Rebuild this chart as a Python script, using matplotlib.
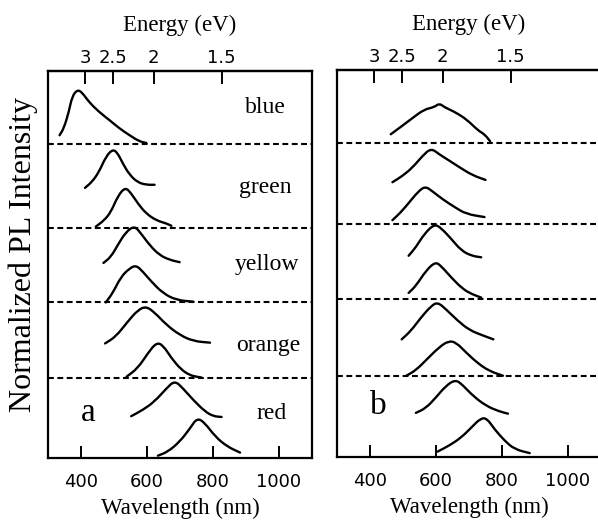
import matplotlib
matplotlib.use("Agg")
import matplotlib.pyplot as plt
from matplotlib.path import Path
from matplotlib.patches import PathPatch

# ---------------- data ----------------
# Panel a : wavelength (nm) and stacked normalized PL intensity
a_blue_wl = [335, 348, 363, 373, 389, 404, 424, 455, 485, 516, 547, 577, 598]
a_blue_y = [4.17, 4.26, 4.47, 4.67, 4.76, 4.72, 4.60, 4.47, 4.37, 4.26, 4.17, 4.09, 4.07]

a_green1_wl = [412, 434, 455, 475, 496, 511, 526, 547, 572, 598, 623]
a_green1_y = [3.49, 3.57, 3.70, 3.89, 3.99, 3.94, 3.81, 3.66, 3.56, 3.53, 3.53]
a_green2_wl = [445, 470, 491, 511, 534, 552, 572, 597, 628, 659, 674]
a_green2_y = [2.99, 3.07, 3.18, 3.38, 3.50, 3.42, 3.29, 3.16, 3.07, 3.03, 3.00]

a_yellow1_wl = [468, 491, 511, 536, 562, 582, 608, 638, 669, 699]
a_yellow1_y = [2.52, 2.60, 2.75, 2.92, 3.00, 2.90, 2.75, 2.62, 2.56, 2.53]
a_yellow2_wl = [475, 496, 521, 547, 567, 587, 613, 648, 689, 740]
a_yellow2_y = [2.01, 2.13, 2.34, 2.45, 2.49, 2.41, 2.28, 2.13, 2.04, 2.02]

a_orange1_wl = [473, 506, 541, 572, 597, 623, 659, 699, 740, 791]
a_orange1_y = [1.48, 1.57, 1.76, 1.91, 1.96, 1.88, 1.72, 1.59, 1.51, 1.49]
a_orange2_wl = [538, 572, 602, 628, 648, 674, 704, 730, 750, 765]
a_orange2_y = [1.05, 1.16, 1.35, 1.49, 1.46, 1.29, 1.14, 1.07, 1.05, 1.04]

a_red1_wl = [552, 587, 623, 659, 684, 709, 740, 776, 801, 826]
a_red1_y = [0.54, 0.62, 0.73, 0.90, 1.00, 0.90, 0.75, 0.60, 0.54, 0.53]
a_red2_wl = [633, 663, 699, 730, 752, 776, 806, 842, 882]
a_red2_y = [0.03, 0.08, 0.21, 0.38, 0.52, 0.45, 0.28, 0.15, 0.07]

# Panel b
b_s5_wl = [463, 498, 529, 564, 595, 610, 625, 661, 696, 727, 747, 764]
b_s5_y = [4.17, 4.28, 4.38, 4.49, 4.52, 4.57, 4.52, 4.45, 4.35, 4.22, 4.17, 4.08]

b_s4a_wl = [468, 498, 529, 559, 585, 610, 640, 676, 711, 750]
b_s4a_y = [3.55, 3.63, 3.74, 3.89, 3.99, 3.91, 3.83, 3.73, 3.64, 3.58]
b_s4b_wl = [468, 493, 519, 544, 567, 590, 620, 656, 691, 747]
b_s4b_y = [3.06, 3.16, 3.29, 3.42, 3.50, 3.43, 3.33, 3.23, 3.14, 3.10]

b_s3a_wl = [517, 539, 564, 595, 615, 646, 676, 707, 737]
b_s3a_y = [2.60, 2.71, 2.88, 3.01, 2.96, 2.82, 2.67, 2.60, 2.58]
b_s3b_wl = [517, 539, 570, 598, 615, 646, 681, 711, 737]
b_s3b_y = [2.12, 2.21, 2.41, 2.52, 2.47, 2.32, 2.17, 2.10, 2.06]

b_s2a_wl = [496, 524, 554, 585, 605, 630, 666, 701, 742, 774]
b_s2a_y = [1.52, 1.63, 1.80, 1.95, 2.00, 1.91, 1.76, 1.64, 1.57, 1.52]
b_s2b_wl = [510, 539, 574, 610, 638, 661, 691, 727, 762, 803]
b_s2b_y = [1.05, 1.12, 1.27, 1.42, 1.50, 1.48, 1.35, 1.21, 1.11, 1.05]

b_s1a_wl = [539, 569, 600, 630, 659, 681, 712, 752, 791, 818]
b_s1a_y = [0.57, 0.63, 0.77, 0.92, 1.00, 0.93, 0.79, 0.66, 0.59, 0.56]
b_s1b_wl = [605, 641, 676, 707, 735, 754, 777, 808, 838, 884]
b_s1b_y = [0.07, 0.15, 0.25, 0.38, 0.50, 0.50, 0.36, 0.21, 0.10, 0.05]

separators_a = [4.06, 2.97, 2.02, 1.03]
separators_b = [4.06, 3.01, 2.04, 1.05]

color_names = ["blue", "green", "yellow", "orange", "red"]
color_label_wl = [959, 959, 962, 967, 977]
color_label_y = [4.53, 3.50, 2.50, 1.45, 0.58]

wl_ticks = [400, 600, 800, 1000]
energy_ticks = [3, 2.5, 2, 1.5]
energy_tick_labels = ["3", "2.5", "2", "1.5"]

# ---------------- figure ----------------
SERIF = ["Liberation Serif", "DejaVu Serif"]
SANS = ["DejaVu Sans"]

fig = plt.figure(figsize=(5.98, 5.25), dpi=100)
W, H = 598, 525


def ax_rect(left, top, right, bottom):
    return [left / W, 1 - bottom / H, (right - left) / W, (bottom - top) / H]


ax_a = fig.add_axes(ax_rect(48, 71, 312, 458))
ax_b = fig.add_axes(ax_rect(337, 70, 601, 457))

curves_a = [(a_blue_wl, a_blue_y), (a_green1_wl, a_green1_y), (a_green2_wl, a_green2_y),
            (a_yellow1_wl, a_yellow1_y), (a_yellow2_wl, a_yellow2_y),
            (a_orange1_wl, a_orange1_y), (a_orange2_wl, a_orange2_y),
            (a_red1_wl, a_red1_y), (a_red2_wl, a_red2_y)]
curves_b = [(b_s5_wl, b_s5_y), (b_s4a_wl, b_s4a_y), (b_s4b_wl, b_s4b_y),
            (b_s3a_wl, b_s3a_y), (b_s3b_wl, b_s3b_y),
            (b_s2a_wl, b_s2a_y), (b_s2b_wl, b_s2b_y),
            (b_s1a_wl, b_s1a_y), (b_s1b_wl, b_s1b_y)]


def smooth_path(xs, ys):
    """Quadratic Bezier path using the read points as control points."""
    pts = list(zip(xs, ys))
    verts = [pts[0]]
    codes = [Path.MOVETO]
    mid = lambda p, q: ((p[0] + q[0]) / 2.0, (p[1] + q[1]) / 2.0)
    verts.append(mid(pts[0], pts[1]))
    codes.append(Path.LINETO)
    for i in range(1, len(pts) - 1):
        verts += [pts[i], mid(pts[i], pts[i + 1])]
        codes += [Path.CURVE3, Path.CURVE3]
    verts.append(pts[-1])
    codes.append(Path.LINETO)
    return Path(verts, codes)


def energy_fwd(x):
    import numpy as np
    x = np.asarray(x, dtype=float)
    with np.errstate(divide="ignore"):
        return 1240.0 / x


for ax, curves, seps, letter, lpos in [
        (ax_a, curves_a, separators_a, "a", (421, 0.59)),
        (ax_b, curves_b, separators_b, "b", (426, 0.66))]:
    for wl, yy in curves:
        ax.add_patch(PathPatch(smooth_path(wl, yy), facecolor="none",
                               edgecolor="black", lw=1.7, joinstyle="round",
                               capstyle="round"))
    for s in seps:
        ax.axhline(s, color="black", lw=1.5, linestyle=(0, (2.8, 1.7)))
    ax.set_xlim(300, 1100)
    ax.set_ylim(0, 5)
    ax.set_yticks([])
    ax.set_xticks(wl_ticks)
    ax.set_xticklabels([str(t) for t in wl_ticks], fontsize=13, family=SANS)
    ax.tick_params(axis="x", direction="in", length=9, width=1.4, pad=11,
                   color="black")
    for sp in ax.spines.values():
        sp.set_linewidth(1.6)
    ax.set_xlabel("Wavelength (nm)", fontsize=16.5, family=SERIF, labelpad=5)
    ax.text(lpos[0], lpos[1], letter, fontsize=24, family=SERIF,
            ha="center", va="center")

    sec = ax.secondary_xaxis("top", functions=(energy_fwd, energy_fwd))
    sec.set_xticks(energy_ticks)
    sec.set_xticklabels(energy_tick_labels, fontsize=13, family=SANS)
    sec.tick_params(axis="x", direction="in", length=9, width=1.4, pad=3)
    sec.xaxis.set_minor_locator(matplotlib.ticker.NullLocator())
    sec.spines["top"].set_linewidth(1.6)
    sec.set_xlabel("Energy (eV)", fontsize=16.5, family=SERIF, labelpad=13)

for name, xw, yv in zip(color_names, color_label_wl, color_label_y):
    ax_a.text(xw, yv, name, fontsize=17, family=SERIF, ha="center", va="center")

fig.text(23 / W, 1 - 255 / H, "Normalized PL Intensity", rotation=90,
         fontsize=23, family=SERIF, ha="center", va="center")

fig.savefig("out.png", dpi=100)
